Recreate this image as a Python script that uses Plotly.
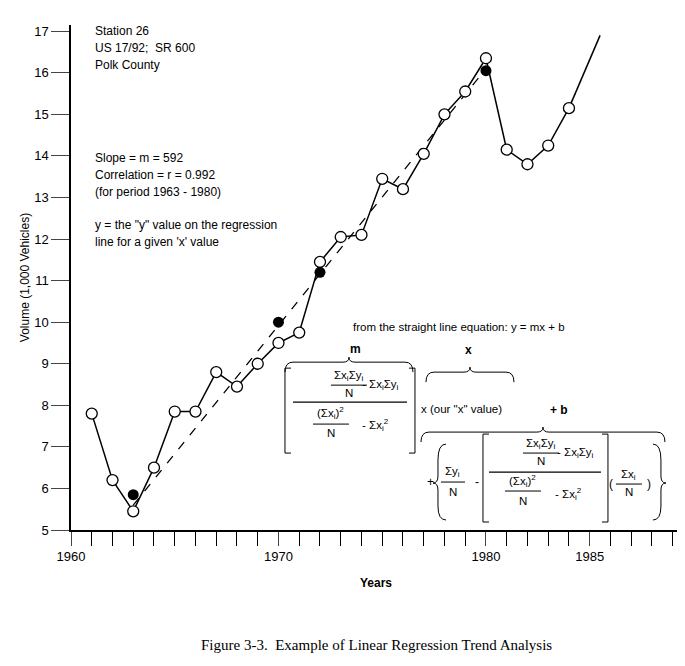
import plotly.graph_objects as go

years = list(range(1961, 1985))
volume = [7.8, 6.2, 5.45, 6.5, 7.85, 7.85, 8.8, 8.45, 9.0, 9.5, 9.75, 11.45, 12.05, 12.1,
          13.45, 13.2, 14.05, 15.0, 15.55, 16.35, 14.15, 13.8, 14.25, 15.15]
ext_years = [1984, 1985.5]
ext_volume = [15.15, 16.9]
reg_years = [1963, 1970, 1972, 1980]
reg_volume = [5.85, 10.0, 11.2, 16.05]
dash_years = [1963, 1980]
dash_volume = [5.6, 16.1]

# pixel -> data helpers for annotation placement
def X(px): return 1960 + (px - 70) / 20.75
def Y(py): return 5 + (530 - py) / 41.6

F = "Liberation Sans"
fig = go.Figure()
fig.add_trace(go.Scatter(x=dash_years, y=dash_volume, mode="lines",
                         line=dict(color="black", width=1.3, dash="dash")))
fig.add_trace(go.Scatter(x=ext_years, y=ext_volume, mode="lines", line=dict(color="black", width=1.5)))
fig.add_trace(go.Scatter(x=years, y=volume, mode="lines+markers", line=dict(color="black", width=1.5),
                         marker=dict(size=11, color="white", line=dict(color="black", width=1.3))))
fig.add_trace(go.Scatter(x=reg_years, y=reg_volume, mode="markers",
                         marker=dict(size=11, color="black")))

ann = []
def t(px, py, s, size=12, anchor="left", fam=F):
    ann.append(dict(x=X(px), y=Y(py), xref="x", yref="y", text=s, showarrow=False,
                    xanchor=anchor, yanchor="middle", font=dict(family=fam, size=size, color="black")))

t(92, 31, "Station 26")
t(92, 48, "US 17/92;  SR 600")
t(92, 65, "Polk County")
t(92, 158, "Slope = m = 592")
t(92, 175, "Correlation = r = 0.992")
t(92, 192, "(for period 1963 - 1980)")
t(92, 225, "y = the \"y\" value on the regression")
t(92, 242, "line for a given 'x' value")
t(350, 327, "from the straight line equation: y = mx + b", 11.5)
t(355, 349, "<b>m</b>", 12, "center")
t(468, 350, "<b>x</b>", 12, "center")
t(558, 410, "<b>+ b</b>", 12, "center")
# m block
t(348, 376, "Σx<sub>i</sub>Σy<sub>i</sub>", 11.5, "center")
t(348, 393, "N", 11.5, "center")
t(380, 385, "- Σx<sub>i</sub>Σy<sub>i</sub>", 11.5, "center")
t(330, 413, "(Σx<sub>i</sub>)<sup>2</sup>", 11.5, "center")
t(330, 433, "N", 11.5, "center")
t(375, 425, "- Σx<sub>i</sub><sup>2</sup>", 11.5, "center")
t(418, 409, "x (our \"x\" value)", 11.5)
# b block
t(424, 482, "+", 12)
t(452, 472, "Σy<sub>i</sub>", 11.5, "center")
t(452, 492, "N", 11.5, "center")
t(476, 482, "-", 12, "center")
t(540, 444, "Σx<sub>i</sub>Σy<sub>i</sub>", 11.5, "center")
t(540, 461, "N", 11.5, "center")
t(575, 453, "- Σx<sub>i</sub>Σy<sub>i</sub>", 11.5, "center")
t(522, 481, "(Σx<sub>i</sub>)<sup>2</sup>", 11.5, "center")
t(522, 501, "N", 11.5, "center")
t(568, 494, "- Σx<sub>i</sub><sup>2</sup>", 11.5, "center")
t(628, 475, "Σx<sub>i</sub>", 11.5, "center")
t(628, 492, "N", 11.5, "center")
t(610, 484, "(", 12, "center")
t(648, 484, ")", 12, "center")

shapes = []
def ln(x0, y0, x1, y1, w=1):
    shapes.append(dict(type="line", xref="x", yref="y", x0=X(x0), y0=Y(y0), x1=X(x1), y1=Y(y1),
                       line=dict(color="black", width=w)))
def brack(x0, x1, y0, y1):
    ln(x0, y0, x0, y1); ln(x0, y0, x0 + 6, y0); ln(x0, y1, x0 + 6, y1)
    ln(x1, y0, x1, y1); ln(x1, y0, x1 - 6, y0); ln(x1, y1, x1 - 6, y1)
def brace(x0, x1, y, h=10):
    xm = (x0 + x1) / 2
    path = (f"M {X(x0)},{Y(y+h)} Q {X(x0)},{Y(y)} {X(x0+8)},{Y(y)} L {X(xm-6)},{Y(y)} "
            f"Q {X(xm)},{Y(y)} {X(xm)},{Y(y-5)} Q {X(xm)},{Y(y)} {X(xm+6)},{Y(y)} "
            f"L {X(x1-8)},{Y(y)} Q {X(x1)},{Y(y)} {X(x1)},{Y(y+h)}")
    shapes.append(dict(type="path", xref="x", yref="y", path=path, line=dict(color="black", width=1)))

brack(284, 414, 368, 453)
ln(330, 385, 366, 385); ln(312, 424, 348, 424); ln(292, 402, 406, 402, 1.2)
brace(284, 412, 362)
brace(425, 513, 372)
brace(420, 664, 432)
ln(440, 482, 464, 482)
brack(482, 607, 434, 522)
ln(522, 453, 558, 453); ln(504, 491, 540, 491); ln(488, 472, 600, 472, 1.2)
ln(615, 484, 641, 484)
# curly outer braces of b block
for (xa, d) in [(437, 1), (660, -1)]:
    path = (f"M {X(xa+8*d)},{Y(444)} Q {X(xa)},{Y(444)} {X(xa)},{Y(460)} L {X(xa)},{Y(476)} "
            f"Q {X(xa)},{Y(483)} {X(xa-5*d)},{Y(483)} Q {X(xa)},{Y(483)} {X(xa)},{Y(490)} "
            f"L {X(xa)},{Y(506)} Q {X(xa)},{Y(520)} {X(xa+8*d)},{Y(520)}")
    shapes.append(dict(type="path", xref="x", yref="y", path=path, line=dict(color="black", width=1)))

ann.append(dict(x=0.5, y=-0.228, xref="paper", yref="paper", showarrow=False, yanchor="middle",
                text="Figure 3-3.  Example of Linear Regression Trend Analysis",
                font=dict(family="Liberation Serif", size=15, color="black")))

fig.update_layout(
    width=685, height=666, showlegend=False, plot_bgcolor="white", paper_bgcolor="white",
    margin=dict(l=63, r=12, t=17, b=144), annotations=ann, shapes=shapes,
    font=dict(family=F, size=12, color="black"),
    xaxis=dict(range=[1960, 1989.4], tickvals=[1960, 1970, 1980, 1985], ticks="outside", ticklen=14,
               tickwidth=1.3, showline=True, linecolor="black", linewidth=1.5, showgrid=False,
               zeroline=False, tickfont=dict(size=13),
               minor=dict(dtick=1, tick0=1960, ticks="outside", ticklen=14, tickwidth=1.3, tickcolor="black"),
               title=dict(text="<b>Years</b>", font=dict(size=12), standoff=15)),
    yaxis=dict(range=[5, 17.15], tickvals=list(range(5, 18)), ticks="outside", ticklen=18, tickwidth=1.3,
               showline=True, linecolor="black", linewidth=1.5, showgrid=False, zeroline=False,
               tickfont=dict(size=13), title=dict(text="Volume (1,000 Vehicles)", font=dict(size=12), standoff=2)),
)
fig.write_html("out.html")
